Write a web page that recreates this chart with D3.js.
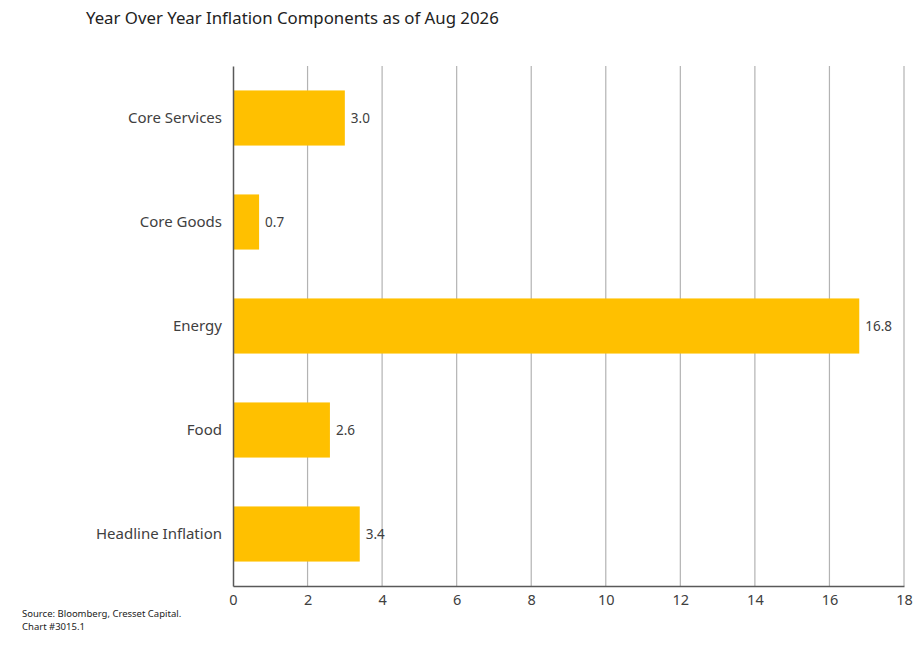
<!DOCTYPE html>
<html>
<head>
<meta charset="utf-8">
<script src="https://cdn.jsdelivr.net/npm/d3@7"></script>
<style>
  body { margin: 0; background: #fff; }
  svg text { font-family: "Noto Sans", "Lato", sans-serif; }
</style>
</head>
<body>
<div id="chart"></div>
<script>
// chart values
var categories = ["Core Services", "Core Goods", "Energy", "Food", "Headline Inflation"];
var values = [3.0, 0.7, 16.8, 2.6, 3.4];
var xTicks = [0, 2, 4, 6, 8, 10, 12, 14, 16, 18];

var width = 919, height = 667;
var margin = { top: 66, right: 15, bottom: 81, left: 233 };

var svg = d3.select("#chart").append("svg")
    .attr("width", width)
    .attr("height", height);

var x = d3.scaleLinear()
    .domain([0, 18])
    .range([margin.left, width - margin.right]);

var y = d3.scaleBand()
    .domain(categories)
    .range([margin.top, height - margin.bottom])
    .paddingInner(0.47)
    .paddingOuter(0.235);

// title
svg.append("text")
    .attr("x", 86)
    .attr("y", 24)
    .style("font-size", "16.8px")
    .attr("fill", "#222")
    .text("Year Over Year Inflation Components as of Aug 2026");

// gridlines
svg.append("g")
    .selectAll("line")
    .data(xTicks.slice(1))
    .join("line")
    .attr("x1", function(d) { return x(d); })
    .attr("x2", function(d) { return x(d); })
    .attr("y1", margin.top)
    .attr("y2", height - margin.bottom)
    .attr("stroke", "#b3b3b3")
    .attr("stroke-width", 1.2);

// bars
svg.append("g")
    .selectAll("rect")
    .data(categories)
    .join("rect")
    .attr("x", x(0))
    .attr("y", function(d) { return y(d); })
    .attr("width", function(d, i) { return x(values[i]) - x(0); })
    .attr("height", y.bandwidth())
    .attr("fill", "#FFC000");

// value labels
svg.append("g")
    .selectAll("text")
    .data(categories)
    .join("text")
    .attr("x", function(d, i) { return x(values[i]) + 6; })
    .attr("y", function(d) { return y(d) + y.bandwidth() / 2; })
    .attr("dominant-baseline", "central")
    .style("font-size", "13.5px")
    .attr("fill", "#404040")
    .text(function(d, i) { return values[i].toFixed(1); });

// x axis
var xAxis = svg.append("g")
    .attr("transform", "translate(0," + (height - margin.bottom) + ")")
    .call(d3.axisBottom(x).tickValues(xTicks).tickSize(0).tickPadding(9));
xAxis.select(".domain").attr("stroke", "#595959").attr("stroke-width", 1.5);
xAxis.selectAll("text")
    .style("font-size", "14.5px")
    .attr("fill", "#404040");

// y axis
var yAxis = svg.append("g")
    .attr("transform", "translate(" + margin.left + ",0)")
    .call(d3.axisLeft(y).tickSize(0).tickPadding(11));
yAxis.select(".domain").attr("stroke", "#595959").attr("stroke-width", 1.5);
yAxis.selectAll("text")
    .style("font-size", "15px")
    .attr("fill", "#404040");

// source note
svg.append("text")
    .attr("x", 22)
    .attr("y", 617)
    .style("font-size", "9.5px")
    .attr("fill", "#222")
    .text("Source: Bloomberg, Cresset Capital.");
svg.append("text")
    .attr("x", 22)
    .attr("y", 630)
    .style("font-size", "9.5px")
    .attr("fill", "#222")
    .text("Chart #3015.1");
</script>
</body>
</html>
